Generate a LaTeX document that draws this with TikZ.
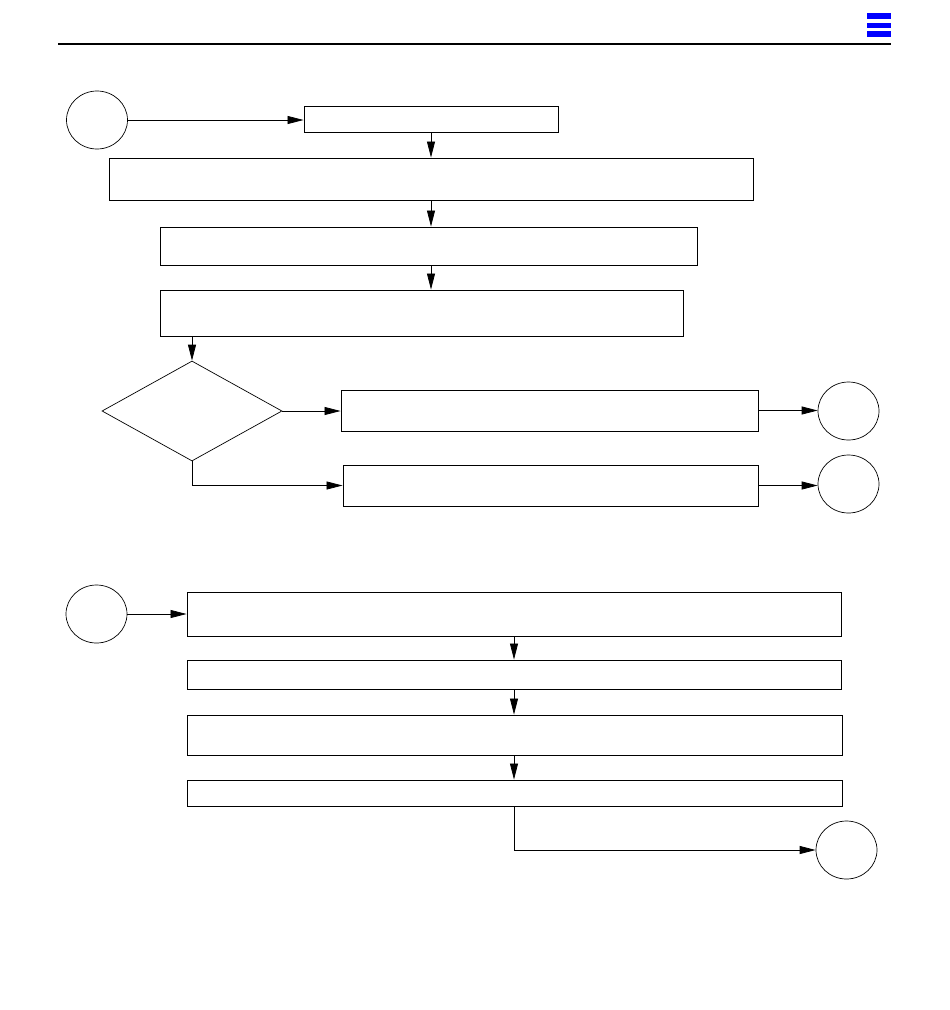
\documentclass[tikz,border=0pt]{standalone}
\usetikzlibrary{shapes.geometric,arrows.meta}
\begin{document}
\begin{tikzpicture}[x=1pt,y=-1pt,
  box/.style={draw,rectangle,inner sep=0pt,line width=0.9pt},
  term/.style={draw,ellipse,inner sep=0pt,line width=0.7pt,minimum width=61pt,minimum height=58pt},
  dec/.style={draw,diamond,inner sep=0pt,line width=0.7pt},
  flow/.style={line width=0.8pt,-{Triangle[length=16pt,width=8pt]}},
  plain/.style={line width=0.8pt}]
\useasboundingbox (0,0) rectangle (950,1010);
% header
\fill[blue] (867,13) rectangle (891,18.5);
\fill[blue] (867,22.5) rectangle (891,28);
\fill[blue] (867,31) rectangle (891,37);
\draw[line width=1.1pt] (58,44) -- (891,44);
% upper flow
\node[term] (c1) at (97,120) {};
\node[box,minimum width=254pt,minimum height=26pt] (b1) at (431,119) {};
\node[box,minimum width=644pt,minimum height=42pt] (b2) at (431,179) {};
\node[box,minimum width=537pt,minimum height=38pt] (b3) at (428.5,246) {};
\node[box,minimum width=523pt,minimum height=46pt] (b4) at (421.5,313) {};
\node[dec,minimum width=180pt,minimum height=100pt] (d) at (192,411) {};
\node[box,minimum width=417pt,minimum height=41pt] (b5) at (549.5,410.5) {};
\node[box,minimum width=415pt,minimum height=41pt] (b6) at (550.5,485.5) {};
\node[term] (c2) at (848.5,411) {};
\node[term] (c3) at (848.5,484) {};
\draw[flow] (c1.east) -- (c1.east -| b1.west);
\draw[flow] (b1.south) -- (b2.north);
\draw[flow] (b2.south) -- (b3.north -| b2.south);
\draw[flow] (b2.south |- b3.south) -- (b2.south |- b4.north);
\draw[flow] (d.north |- b4.south) -- (d.north);
\draw[flow] (d.east) -- (d.east -| b5.west);
\draw[flow] (b5.east) -- (b5.east -| c2.west);
\draw[flow] (d.south) |- (b6.west);
\draw[flow] (b6.east) -- (b6.east -| c3.west);
% lower flow
\node[term] (c4) at (96.5,614) {};
\node[box,minimum width=654pt,minimum height=44pt] (b7) at (514,614) {};
\node[box,minimum width=654pt,minimum height=29pt] (b8) at (514,674.5) {};
\node[box,minimum width=655pt,minimum height=40pt] (b9) at (514.5,735) {};
\node[box,minimum width=655pt,minimum height=26pt] (b10) at (514.5,793) {};
\node[term] (c5) at (846.5,850) {};
\draw[flow] (c4.east) -- (b7.west);
\draw[flow] (b7.south) -- (b7.south |- b8.north);
\draw[flow] (b7.south |- b8.south) -- (b7.south |- b9.north);
\draw[flow] (b7.south |- b9.south) -- (b7.south |- b10.north);
\draw[flow] (b7.south |- b10.south) |- (c5.west);
\end{tikzpicture}
\end{document}
